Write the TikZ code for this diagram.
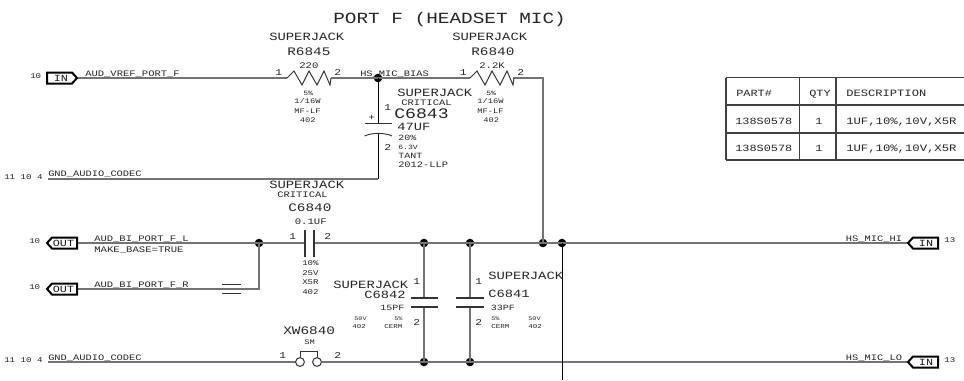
\documentclass[tikz,border=0pt]{standalone}
\usepackage{fontspec}
\newfontfamily\monof[FakeStretch=1.25]{Liberation Mono}
\newcommand\pxfont[1]{\pgfmathsetmacro\pxsz{#1*0.75}\fontsize{\pxsz pt}{\pxsz pt}\monof\selectfont}
\tikzset{
  lab/.style={inner sep=0pt,anchor=base west,text=black!85,font=\pxfont{#1}},
  ptxt/.style={inner sep=0pt,anchor=center,text=black!90,font=\pxfont{9.4}},
  wire/.style={line width=1.1pt,draw=black!55},
  thinw/.style={line width=0.6pt,draw=black},
  part/.style={line width=0.7pt,draw=black!80},
  portb/.style={line width=1.5pt,draw=black,line join=miter},
  dot/.style={circle,fill=black,inner sep=0pt,minimum size=6.4pt},
  tab/.style={line width=0.8pt,draw=black!75}
}
\newcommand\T[5]{\node[lab=#2] (#1) at (#3,#4) {#5};}
\newcommand\resistor[2]{\draw[part] (#1,#2) -- ++(7,-7) -- ++(8,14) -- ++(7,-14) -- ++(8,14) -- ++(7,-14) -- ++(6,14) -- ++(1,-7);}
\begin{document}
\begin{tikzpicture}[x=0.75pt,y=-0.75pt]
\useasboundingbox (0,0) rectangle (964,380);
\fill[white] (0,0) rectangle (964,380);
% junctions and pins
\coordinate (pinA) at (77,78);
\coordinate (r1a) at (287,78);
\coordinate (r1b) at (331,78);
\coordinate (r2a) at (470,78);
\coordinate (r2b) at (513,78);
\coordinate (corner) at (543,78);
\coordinate (c3a) at (378,123);
\coordinate (c3b) at (378,133);
\coordinate (gnd1) at (48,179);
\coordinate (gnd1c) at (378,179);
\coordinate (pinB) at (77,243);
\coordinate (pinC) at (77,289);
\coordinate (c0a) at (305,243);
\coordinate (c0b) at (314,243);
\coordinate (nc) at (259,289);
\coordinate (pinD) at (908,243);
\coordinate (pinE) at (908,362);
\coordinate (gnd2) at (48,362);
\coordinate (xa) at (295.5,362);
\coordinate (xb) at (321.5,362);
\coordinate (c2a) at (424,298);
\coordinate (c2b) at (424,307);
\coordinate (c1a) at (470,298);
\coordinate (c1b) at (470,307);
\coordinate (tail) at (562,380);
\node[dot] (j1) at (378,78) {};
\node[dot] (j2) at (259,243) {};
\node[dot] (j3) at (424,243) {};
\node[dot] (j4) at (470,243) {};
\node[dot] (j5) at (543,243) {};
\node[dot] (j6) at (562,243) {};
\node[dot] (j7) at (424,362) {};
\node[dot] (j8) at (470,362) {};
% wires
\draw[wire] (pinA) -- (r1a);
\draw[wire] (r1b) -- (j1.center) -- (r2a);
\draw[wire] (r2b) -- (corner) -- (j5.center);
\draw[thinw] (j1.center) -- (c3a);
\draw[thinw] (c3b) -- (gnd1c);
\draw[wire] (gnd1) -- (gnd1c);
\draw[wire] (pinB) -- (c0a);
\draw[wire] (pinC) -- (nc) -- (j2.center);
\draw[wire] (c0b) -- (pinD);
\draw[wire] (gnd2) -- (xa);
\draw[wire] (xb) -- (pinE);
\draw[wire] (j3.center) -- (c2a);
\draw[wire] (c2b) -- (j7.center);
\draw[wire] (j4.center) -- (c1a);
\draw[wire] (c1b) -- (j8.center);
\draw[thinw] (j6.center) -- (tail);
% resistors
\resistor{287}{78}
\resistor{470}{78}
% C6843
\draw[part,line width=1pt] (364.5,123.5) -- (392,123.5);
\draw[part] (364.5,136) .. controls (372,132.5) and (385,132.5) .. (392,136);
% C6840
\draw[part,line width=1pt] (305,230) -- (305,257);
\draw[part,line width=1pt] (314,230) -- (314,257);
% C6842, C6841
\draw[part,line width=1pt] (410.5,298) -- (438,298);
\draw[part,line width=1pt] (410.5,307) -- (438,307);
\draw[part,line width=1pt] (456,298) -- (483.5,298);
\draw[part,line width=1pt] (456,307) -- (483.5,307);
% no-connect marks
\draw[part] (222,284.3) -- (241,284.3);
\draw[part] (222,293.5) -- (241,293.5);
% XW6840
\node[circle,draw=black!80,line width=0.75pt,inner sep=0pt,minimum size=6.6pt] (xw1) at (300,362) {};
\node[circle,draw=black!80,line width=0.75pt,inner sep=0pt,minimum size=6.6pt] (xw2) at (317,362) {};
\draw[part] (xw1.north) -- (300,351) -- (317,351) -- (xw2.north);
% ports
\draw[portb] (47,72.5) -- (72,72.5) -- (77,78) -- (72,83.5) -- (47,83.5) -- cycle;
\draw[portb] (77,237.5) -- (52,237.5) -- (47,243) -- (52,248.5) -- (77,248.5) -- cycle;
\draw[portb] (77,283.5) -- (52,283.5) -- (47,289) -- (52,294.5) -- (77,294.5) -- cycle;
\draw[portb] (938,237.5) -- (913,237.5) -- (908,243) -- (913,248.5) -- (938,248.5) -- cycle;
\draw[portb] (938,356.5) -- (913,356.5) -- (908,362) -- (913,367.5) -- (938,367.5) -- cycle;
\node[ptxt] (pa) at (61,78.5) {IN};
\node[ptxt] (pb) at (63.5,243.5) {OUT};
\node[ptxt] (pc) at (63.5,289.5) {OUT};
\node[ptxt] (pd) at (926,243.5) {IN};
\node[ptxt] (pe) at (926,362.5) {IN};
% texts
\T{title}{15.5}{333}{23}{PORT F (HEADSET MIC)}
\T{a1}{11.1}{269}{40.5}{SUPERJACK}
\T{a2}{11.5}{287}{55}{R6845}
\T{a3}{8.5}{299}{68}{220}
\T{a4}{9}{275}{75}{1}
\T{a5}{9}{334}{75}{2}
\T{a6}{6.5}{303}{95}{5\%}
\T{a7}{7}{294}{103}{1/16W}
\T{a8}{7}{294}{113}{MF-LF}
\T{a9}{7}{299.5}{122}{402}
\T{b0}{8.3}{360}{76}{HS\_MIC\_BIAS}
\T{b1}{11.1}{452}{40.5}{SUPERJACK}
\T{b2}{11.5}{471}{55}{R6840}
\T{b3}{8.5}{479}{68}{2.2K}
\T{b4}{9}{459.5}{75}{1}
\T{b5}{9}{517}{75}{2}
\T{b6}{6.5}{486}{95}{5\%}
\T{b7}{7}{477}{103}{1/16W}
\T{b8}{7}{477}{113}{MF-LF}
\T{b9}{7}{483}{122}{402}
\T{c1}{11.1}{397}{96}{SUPERJACK}
\T{c2}{8.4}{401}{105}{CRITICAL}
\T{c3}{14.5}{394}{118}{C6843}
\T{c4}{11}{397}{130}{47UF}
\T{c5}{8}{398}{140.5}{20\%}
\T{c6}{6.5}{398}{149}{6.3V}
\T{c7}{8}{398}{158}{TANT}
\T{c8}{8.3}{398}{167}{2012-LLP}
\T{c9}{9}{384}{110}{1}
\T{c10}{9}{384}{150.5}{2}
\T{c11}{9}{368}{120}{+}
\T{n1}{8.4}{85}{76}{AUD\_VREF\_PORT\_F}
\T{n2}{7.3}{30}{78}{10}
\T{n3}{8.3}{48}{176}{GND\_AUDIO\_CODEC}
\T{n4}{7.3}{4}{179}{11 10 4}
\T{n5}{8.4}{94}{241}{AUD\_BI\_PORT\_F\_L}
\T{n6}{8.5}{94}{252}{MAKE\_BASE=TRUE}
\T{n7}{8.4}{94}{287}{AUD\_BI\_PORT\_F\_R}
\T{n8}{7.3}{29}{243}{10}
\T{n9}{7.3}{29}{289}{10}
\T{n10}{8.3}{48}{360}{GND\_AUDIO\_CODEC}
\T{n11}{7.3}{4}{362}{11 10 4}
\T{d1}{11.1}{269}{188.5}{SUPERJACK}
\T{d2}{8.4}{277}{197.5}{CRITICAL}
\T{d3}{11.5}{288}{211}{C6840}
\T{d4}{8.5}{294.5}{224}{0.1UF}
\T{d5}{9}{289}{239}{1}
\T{d6}{9}{324}{239}{2}
\T{d7}{7.3}{302}{265}{10\%}
\T{d8}{7.3}{302}{275}{25V}
\T{d9}{7.3}{302}{284.7}{X5R}
\T{d10}{7.3}{302}{294}{402}
\T{e1}{11.5}{283}{334}{XW6840}
\T{e2}{7}{304}{344}{SM}
\T{e3}{9}{279}{358}{1}
\T{e4}{9}{334}{358}{2}
\T{f1}{11.1}{333}{288.5}{SUPERJACK}
\T{f2}{11}{364}{298}{C6842}
\T{f3}{8}{380}{310.7}{15PF}
\T{f4}{5.5}{354}{320}{50V}
\T{f5}{6}{352}{328.7}{402}
\T{f6}{5.5}{394}{320}{5\%}
\T{f7}{6}{384}{328.7}{CERM}
\T{f8}{9}{413}{284}{1}
\T{f9}{9}{413}{325.7}{2}
\T{g1}{11.1}{488}{279}{SUPERJACK}
\T{g2}{11}{488}{297.7}{C6841}
\T{g3}{8}{490.7}{310.7}{33PF}
\T{g4}{5.5}{491}{320}{5\%}
\T{g5}{6}{491}{328.7}{CERM}
\T{g6}{5.5}{528}{320}{50V}
\T{g7}{6}{528}{328.7}{402}
\T{g8}{9}{475}{284}{1}
\T{g9}{9}{475}{325.7}{2}
\T{h1}{8.3}{845.7}{241}{HS\_MIC\_HI}
\T{h2}{7.3}{944}{242.7}{13}
\T{h3}{8.3}{845.7}{360}{HS\_MIC\_LO}
\T{h4}{7.3}{944}{362}{13}
% table
\draw[tab] (726,77.5) -- (964,77.5);
\draw[tab] (726,105) -- (964,105);
\draw[tab] (726,133) -- (964,133);
\draw[tab] (726,160) -- (964,160);
\draw[tab] (726,77.5) -- (726,160);
\draw[tab] (799.5,77.5) -- (799.5,160);
\draw[tab] (836,77.5) -- (836,160);
\T{t1}{9.5}{736}{96}{PART\#}
\T{t2}{9.5}{809}{96}{QTY}
\T{t3}{9.7}{846}{96}{DESCRIPTION}
\T{t4}{9.5}{735}{124}{138S0578}
\T{t5}{9.5}{815}{124}{1}
\T{t6}{9.8}{846}{124}{1UF,10\%,10V,X5R}
\T{t7}{9.5}{735}{151}{138S0578}
\T{t8}{9.5}{815}{151}{1}
\T{t9}{9.8}{846}{151}{1UF,10\%,10V,X5R}
\end{tikzpicture}
\end{document}
